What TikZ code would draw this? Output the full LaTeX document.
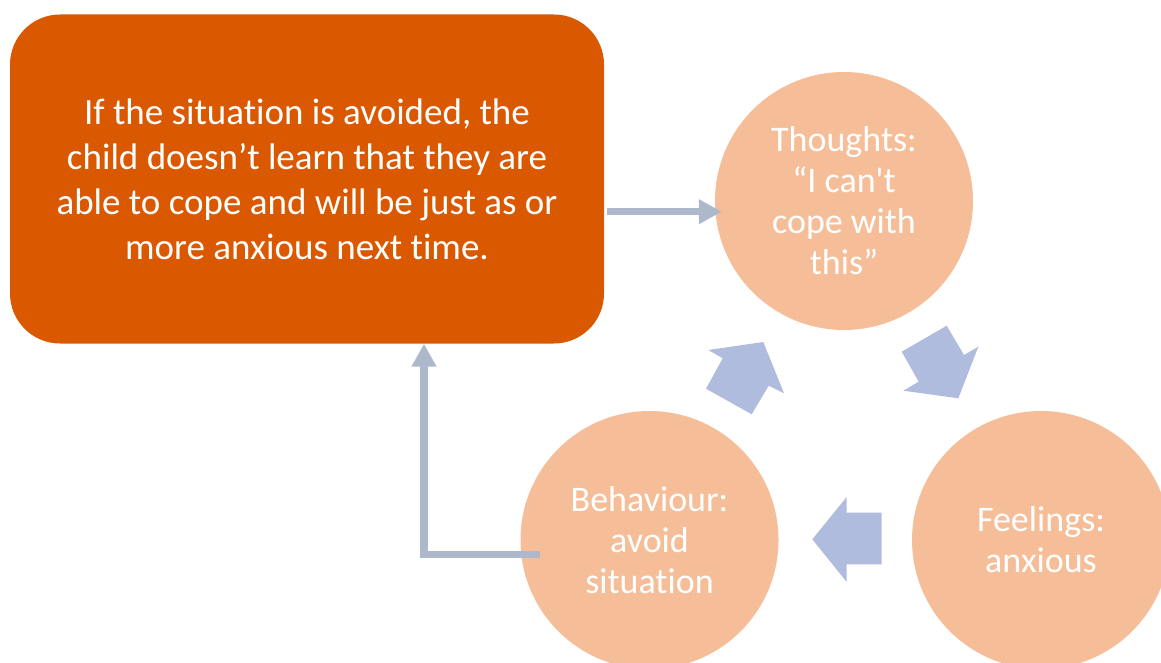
\documentclass[tikz,border=0pt]{standalone}
\usepackage{fontspec}
\setmainfont{Carlito}[Ligatures={TeXOff,CommonOff}]
\usetikzlibrary{arrows.meta,calc}
\definecolor{boxorange}{RGB}{217,88,0}
\definecolor{peach}{RGB}{245,190,152}
\definecolor{blockblue}{RGB}{175,188,221}
\definecolor{lineblue}{RGB}{173,185,202}
\begin{document}
\begin{tikzpicture}[x=1pt,y=-1pt,
  infobox/.style={draw=none,fill=boxorange,rounded corners=50,minimum width=594,minimum height=329,inner sep=0,
    text=white,align=center,font=\fontsize{37}{45}\selectfont},
  stage/.style={circle,draw=none,fill=peach,minimum size=258,inner sep=0,
    text=white,align=center,font=\fontsize{36}{41}\selectfont},
  blockarrow/.style={fill=blockblue,draw=none},
  linearrow/.style={draw=lineblue,line width=7.5pt,-{Triangle[length=23pt,width=23.5pt]}}
]
\useasboundingbox (0,0) rectangle (1161,663);
\clip (0,0) rectangle (1161,663);

\node[stage] (thoughts) at (844,201) {Thoughts:\\“I can't\\cope with\\this”};
\node[stage] (feelings) at (1041,540) {Feelings:\\anxious};
\node[stage] (behaviour) at (649.5,540) {Behaviour:\\avoid\\situation};

\fill[blockarrow] (706,388.7) -- (722.7,358.3) -- (708.3,350) -- (763.3,342) -- (784,393.3) -- (768.7,385.7) -- (751.7,414.3) -- cycle;
\fill[blockarrow] (901.7,351.7) -- (946.7,325.7) -- (964,355) -- (978.3,346.7) -- (958.3,398.3) -- (903.3,390.7) -- (918.7,381.7) -- cycle;
\fill[blockarrow] (881.7,512.7) -- (846.7,512.7) -- (846.7,497) -- (812.3,539.3) -- (846.7,582) -- (846.7,564.3) -- (881.7,564.3) -- cycle;

\node[infobox] (box) at (307,179) {If the situation is avoided, the\\child doesn’t learn that they are\\able to cope and will be just as or\\more anxious next time.};

\coordinate (hstart) at ($(box.east)+(3,32.7)$);
\coordinate (hend) at ($(thoughts.west)+(7,10.7)$);
\draw[linearrow] (hstart) -- (hend);

\coordinate (estart) at ($(behaviour.west)+(19.5,14.3)$);
\draw[linearrow] (estart) -| (box.south -| 424,0);
\end{tikzpicture}
\end{document}
